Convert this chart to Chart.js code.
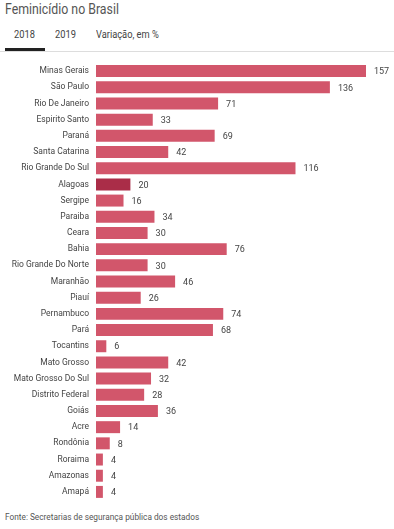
<!DOCTYPE html>
<html>
<head>
<meta charset="utf-8">
<script src="https://cdn.jsdelivr.net/npm/chart.js@4"></script>
<style>
  body { margin: 0; width: 394px; height: 529px; background: #fff; font-family: Roboto, sans-serif; color: #555; position: relative; overflow: hidden; }
  .title { position: absolute; left: 5px; top: 1px; font-size: 14px; color: #555; transform: scaleX(0.88); transform-origin: left; }
  .tabs { position: absolute; left: 0; top: 26px; width: 394px; height: 25px; border-bottom: 1px solid #ddd; font-size: 10px; color: #444; }
  .tabs span { position: absolute; top: 3px; transform: scaleX(0.93); transform-origin: left; }
  .tabs .active { position: absolute; left: 5px; top: 22px; width: 40px; height: 3px; background: #222; }
  .wrap { position: absolute; left: 0; top: 63px; width: 394px; height: 437px; }
  .source { position: absolute; left: 5px; top: 512px; font-size: 9px; color: #555; transform: scaleX(0.92); transform-origin: left; }
</style>
</head>
<body>
<div class="title">Feminicídio no Brasil</div>
<div class="tabs">
  <span style="left:14px">2018</span>
  <span style="left:55px">2019</span>
  <span style="left:96px">Variação, em %</span>
  <div class="active"></div>
</div>
<div class="wrap"><canvas id="myChart"></canvas></div>
<div class="source">Fonte: Secretarias de segurança pública dos estados</div>
<script>
var states = ['Minas Gerais', 'São Paulo', 'Rio De Janeiro', 'Espirito Santo', 'Paraná', 'Santa Catarina',
  'Rio Grande Do Sul', 'Alagoas', 'Sergipe', 'Paraiba', 'Ceara', 'Bahia', 'Rio Grande Do Norte',
  'Maranhão', 'Piauí', 'Pernambuco', 'Pará', 'Tocantins', 'Mato Grosso', 'Mato Grosso Do Sul',
  'Distrito Federal', 'Goiás', 'Acre', 'Rondônia', 'Roraima', 'Amazonas', 'Amapá'];
var cases2018 = [157, 136, 71, 33, 69, 42, 116, 20, 16, 34, 30, 76, 30, 46, 26, 74, 68, 6, 42, 32, 28, 36, 14, 8, 4, 4, 4];
var highlight = 'Alagoas';

var fontFam = 'Roboto, sans-serif';
var barColors = states.map(s => s == highlight ? 'rgb(170,45,72)' : 'rgb(210,86,107)');

// value labels at the end of each bar
const valueLabels = {
  id: 'valueLabels',
  afterDatasetsDraw(chart) {
    const ctx = chart.ctx;
    const meta = chart.getDatasetMeta(0);
    ctx.save();
    ctx.font = '9px ' + fontFam;
    ctx.fillStyle = '#444';
    ctx.textBaseline = 'middle';
    meta.data.forEach((bar, i) => {
      ctx.fillText(cases2018[i], bar.x + 8, bar.y + 1);
    });
    ctx.restore();
  }
};

const data = {
  labels: states,
  datasets: [{
    label: '2018',
    backgroundColor: barColors,
    data: cases2018,
    barPercentage: 0.74,
    categoryPercentage: 1
  }]
};

const config = {
  type: 'bar',
  data: data,
  options: {
    indexAxis: 'y',
    responsive: true,
    maintainAspectRatio: false,
    animation: false,
    layout: { padding: { left: 0, right: 28, top: 0, bottom: 0 } },
    plugins: { legend: { display: false }, tooltip: { enabled: false } },
    scales: {
      x: { display: false, min: 0, max: 157 },
      y: {
        grid: { display: false, drawTicks: false },
        border: { display: false },
        ticks: { color: '#444', padding: 7, font: { size: 8.5, family: fontFam } },
        afterFit: function (scale) {
          scale.width = 96;
          scale.paddingTop = 0;
          scale.paddingBottom = 0;
        }
      }
    }
  },
  plugins: [valueLabels]
};

const myChart = new Chart(document.getElementById('myChart'), config);
</script>
</body>
</html>
